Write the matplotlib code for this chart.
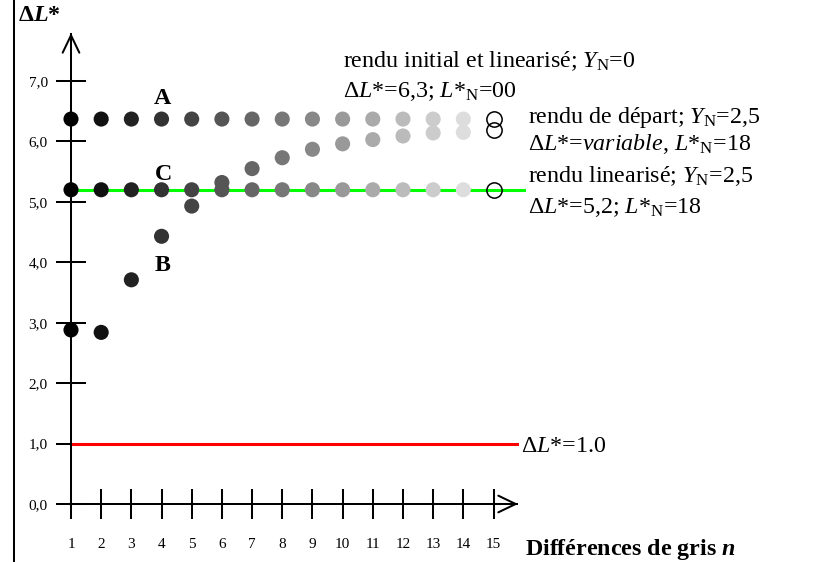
import numpy as np
import matplotlib
matplotlib.use("Agg")
import matplotlib.pyplot as plt
from matplotlib.lines import Line2D

plt.rcParams['font.family'] = ['Liberation Serif', 'DejaVu Serif']
plt.rcParams['mathtext.fontset'] = 'custom'
plt.rcParams['mathtext.rm'] = 'Liberation Serif'
plt.rcParams['mathtext.it'] = 'Liberation Serif:italic'
plt.rcParams['mathtext.bf'] = 'Liberation Serif:bold'
plt.rcParams['mathtext.bfit'] = 'Liberation Serif:italic:bold'

# ---- data ----
n = np.arange(1, 15)
series_A = [6.37] * 14                       # rendu initial et linearisé
series_C = [5.20] * 14                       # rendu linearisé
series_B = [2.88, 2.84, 3.71, 4.43, 4.93, 5.32, 5.55, 5.73, 5.87, 5.96,
            6.03, 6.09, 6.14, 6.15]          # rendu de départ
end_n = 15
end_A, end_B, end_C = 6.37, 6.19, 5.20
ref_line = 1.0
x_ticks = list(range(1, 16))
y_ticks = list(range(0, 8))
y_ticklabels = ["0,0", "1,0", "2,0", "3,0", "4,0", "5,0", "6,0", "7,0"]
grey_hex = ["00", "11", "22", "33", "44", "55", "66", "77", "88", "99",
            "aa", "bb", "cc", "dd"]
colors = ["#" + g * 3 for g in grey_hex]

# ---- layout (pixel mapping) ----
W, H = 819, 562
X0, SX = 40.82, 30.18
Y0, SY = 504.0, 60.43


def px(x, y):
    return ((x - X0) / SX, (Y0 - y) / SY)


fig = plt.figure(figsize=(W / 100, H / 100), dpi=100)
ax = fig.add_axes([0, 0, 1, 1])
ax.set_xlim(px(0, 0)[0], px(W, 0)[0])
ax.set_ylim(px(0, H)[1], px(0, 0)[1])
ax.patch.set_alpha(0)

LW = 1.45
for s in ['top', 'right']:
    ax.spines[s].set_visible(False)
ax.spines['left'].set_position(('data', 1))
ax.spines['bottom'].set_position(('data', 0))
ax.spines['left'].set_bounds(0, px(0, 34)[1])
ax.spines['bottom'].set_bounds(1, px(517, 0)[0])
for s in ['left', 'bottom']:
    ax.spines[s].set_linewidth(LW)

ax.set_xticks(x_ticks)
ax.set_xticklabels([str(v) for v in x_ticks])
ax.set_yticks(y_ticks)
ax.set_yticklabels(y_ticklabels)
ax.tick_params(axis='both', direction='inout', length=21.6, width=LW,
               labelsize=11)
ax.tick_params(axis='y', pad=6)
ax.tick_params(axis='x', pad=14)

# arrow heads
ax.annotate('', xy=px(71, 33), xytext=px(71, 60),
            arrowprops=dict(arrowstyle='->,head_length=1.25,head_width=0.6',
                            lw=LW, color='k', mutation_scale=10,
                            shrinkA=0, shrinkB=0))
ax.annotate('', xy=px(518, 504), xytext=px(490, 504),
            arrowprops=dict(arrowstyle='->,head_length=1.25,head_width=0.6',
                            lw=LW, color='k', mutation_scale=10,
                            shrinkA=0, shrinkB=0))

# left frame line
fig.add_artist(Line2D([14 / W, 14 / W], [0, 1], color='k', lw=LW))

# reference lines
ax.plot([1, px(524, 0)[0]], [series_C[0], series_C[0]], color='#00ff00', lw=2.2, zorder=2)
ax.plot([1, px(517, 0)[0]], [ref_line, ref_line], color='#ff0000', lw=2.2, zorder=2)

S = 118
ax.scatter(n, series_A, s=S, c=colors, zorder=3, linewidths=0, clip_on=False)
ax.scatter(n, series_C, s=S, c=colors, zorder=3, linewidths=0, clip_on=False)
ax.scatter(n, series_B, s=S, c=colors, zorder=4, linewidths=0, clip_on=False)
ax.plot([end_n] * 3, [end_A, end_B, end_C], 'o', ms=11, mfc='none', mec='k',
        mew=1.1, zorder=5)

FS = 17.3
ax.text(*px(343, 66.7), "rendu initial et linearisé; $Y_{\\mathrm{N}}$=0",
        fontsize=FS, va='baseline')
ax.text(*px(343, 96.7), "Δ$L$*=6,3; $L$*$_{\\mathrm{N}}$=00",
        fontsize=FS, va='baseline')
ax.text(*px(528, 123.3), "rendu de départ; $Y_{\\mathrm{N}}$=2,5",
        fontsize=FS, va='baseline')
ax.text(*px(528, 150), "Δ$L$*=$variable$, $L$*$_{\\mathrm{N}}$=18",
        fontsize=FS, va='baseline')
ax.text(*px(528, 181.7), "rendu linearisé; $Y_{\\mathrm{N}}$=2,5",
        fontsize=FS, va='baseline')
ax.text(*px(528, 213.3), "Δ$L$*=5,2; $L$*$_{\\mathrm{N}}$=18",
        fontsize=FS, va='baseline')
ax.text(*px(521, 452), "Δ$L$*=1.0", fontsize=FS, va='baseline')
ax.text(*px(525, 554.7), "Différences de gris $\\mathbfit{n}$",
        fontsize=FS, fontweight='bold', va='baseline')
ax.text(*px(18, 20.7), "Δ$\\mathbfit{L}$*", fontsize=FS, fontweight='bold',
        va='baseline')
ax.text(*px(154, 104), "A", fontsize=FS, fontweight='bold', va='baseline')
ax.text(*px(155, 180), "C", fontsize=FS, fontweight='bold', va='baseline')
ax.text(*px(155, 270.7), "B", fontsize=FS, fontweight='bold', va='baseline')

fig.savefig("out.png", dpi=100)
